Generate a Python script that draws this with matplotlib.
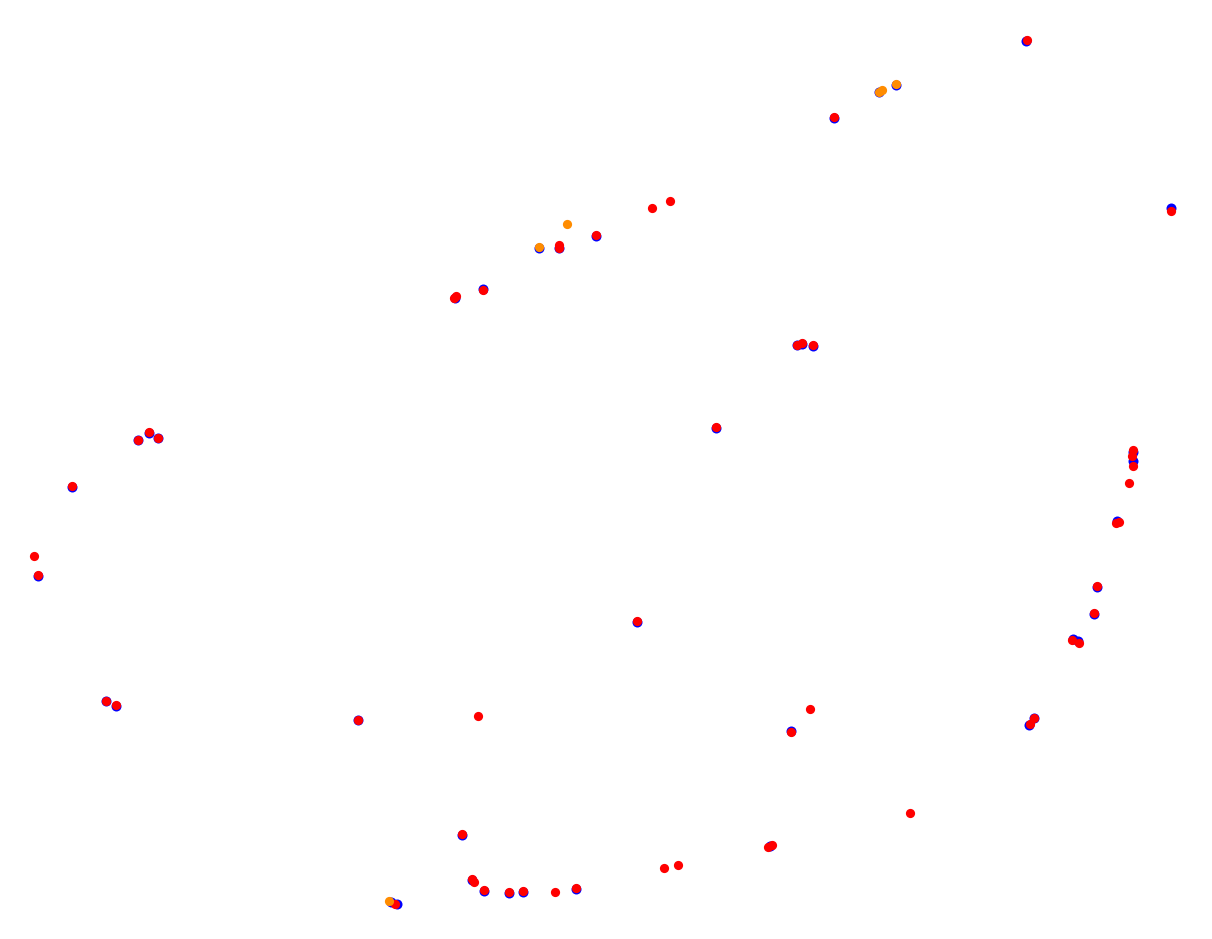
import matplotlib
matplotlib.use("Agg")
import matplotlib.pyplot as plt
import numpy as np

# position points (x, y), y grows downwards
blue_x = [1026, 834, 1171, 879, 896, 539, 559, 596, 483, 455, 797, 802, 813, 716,
          149, 138, 158, 72, 38, 1133, 1133, 1117, 1097, 1094, 1073, 1078, 637,
          106, 116, 358, 791, 1034, 1029, 462, 770, 472, 484, 509, 523, 576, 397, 391]
blue_y = [41, 118, 208, 92, 85, 248, 248, 236, 289, 298, 345, 344, 346, 428,
          433, 440, 438, 487, 576, 452, 461, 521, 587, 614, 639, 641, 622,
          701, 706, 720, 731, 718, 725, 835, 846, 880, 891, 893, 892, 889, 904, 902]

red_x = [1027, 834, 1171, 670, 652, 596, 559, 559, 483, 456, 454, 797, 802, 813,
         716, 149, 138, 158, 72, 34, 38, 1133, 1132, 1133, 1129, 1116, 1119, 1097,
         1094, 1072, 1079, 637, 106, 116, 358, 478, 810, 791, 1034, 1030, 910, 462,
         768, 772, 664, 678, 472, 474, 484, 509, 523, 555, 576, 395]
red_y = [40, 117, 211, 201, 208, 235, 245, 248, 290, 296, 298, 345, 343, 345,
         427, 432, 440, 438, 486, 556, 575, 450, 456, 466, 483, 523, 522, 586,
         613, 640, 643, 621, 701, 705, 720, 716, 709, 732, 718, 724, 813, 834,
         847, 845, 868, 865, 879, 882, 890, 892, 891, 892, 888, 904]

orange_x = [539, 567, 879, 882, 896, 389]
orange_y = [247, 224, 92, 90, 84, 901]

fig = plt.figure(figsize=(12.12, 9.39), dpi=100)
ax = fig.add_axes([0, 0, 1, 1])

ax.scatter(blue_x, blue_y, s=52, c="blue", linewidths=0)
ax.scatter(red_x, red_y, s=44, c="red", linewidths=0)
ax.scatter(orange_x, orange_y, s=44, c="darkorange", linewidths=0)

ax.set_xlim(0, 1212)
ax.set_ylim(939, 0)
ax.axis("off")

fig.savefig("out.png", dpi=100)
